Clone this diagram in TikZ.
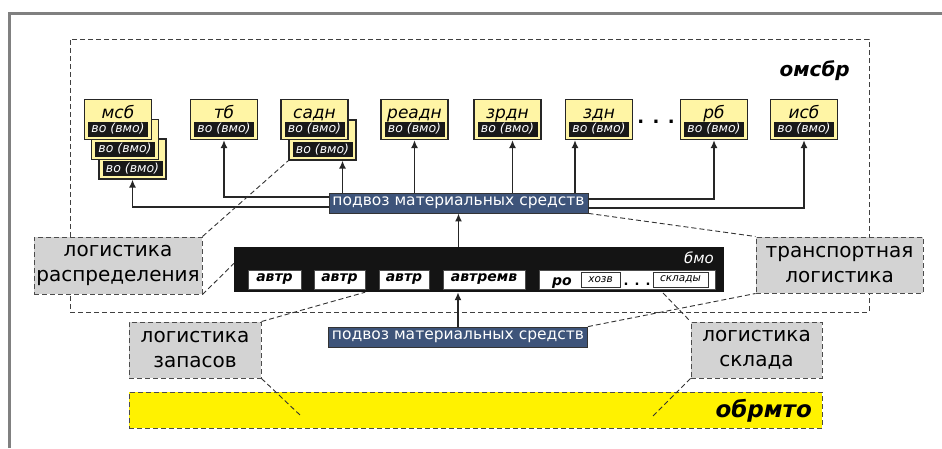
\documentclass[tikz,border=0pt]{standalone}
\usepackage{fontspec}
\setmainfont{DejaVu Sans}
\usetikzlibrary{arrows.meta}
\definecolor{unitfill}{RGB}{255,245,165}
\definecolor{busblue}{RGB}{62,84,122}
\definecolor{logigray}{RGB}{211,211,211}
\definecolor{baryellow}{RGB}{255,242,0}

\begin{document}
\begin{tikzpicture}[>={Latex[length=8pt,width=7pt]},x=1pt,y=-1pt,
  unit/.style={draw=black!85,line width=1.1pt,fill=unitfill,minimum width=67pt,minimum height=40pt,inner sep=0pt},
  strip/.style={fill=black!90,text=white,minimum width=60pt,minimum height=15pt,inner sep=0pt,font=\fontsize{12.5}{12.5}\selectfont\itshape},
  utitle/.style={inner sep=0pt,anchor=base,font=\fontsize{17}{17}\selectfont\itshape},
  bus/.style={fill=busblue,draw=black!80,line width=0.8pt,text=white,minimum width=259pt,minimum height=20pt,inner sep=0pt,font=\fontsize{15.5}{15.5}\selectfont},
  subunit/.style={fill=white,draw=black!70,minimum height=19pt,inner sep=0pt,font=\fontsize{14}{14}\selectfont\bfseries\itshape},
  store/.style={fill=white,draw=black!80,line width=0.8pt,minimum height=15pt,inner sep=0pt,font=\fontsize{10.5}{10.5}\selectfont\itshape},
  logi/.style={fill=logigray,draw=black!70,dash pattern=on 5pt off 3pt,line width=1pt,inner sep=0pt,align=center,font=\fontsize{20}{25}\selectfont},
  arr/.style={->,line width=1.7pt,draw=black!85},
  link/.style={line width=0.9pt,draw=black!80,dash pattern=on 5pt off 3pt}]
\useasboundingbox (0,0) rectangle (942,448);
\draw[line width=3pt,gray] (9,448) |- (942,13);

% omsbr frame
\node[draw=black!75,dash pattern=on 5pt off 3pt,line width=1pt,minimum width=799pt,minimum height=273pt] (omsbr) at (469.5,175.5) {};
\node[anchor=base east,inner sep=0pt,font=\fontsize{20}{20}\selectfont\bfseries\itshape] (omsbr-t) at (850,76) {омсбр};

% units (back copies first)
\foreach \n/\x/\y in {msb3/132.5/159,msb2/125/139.5,sadn2/322.5/140} {
  \node[unit] (\n) at (\x,\y) {};
  \node[strip] (\n-s) at ([yshift=-9.5pt]\n.center) {во (вмо)};
}
\foreach \n/\x/\t in {msb/118/мсб,tb/224/тб,sadn/314.5/садн,readn/414.5/реадн,zrdn/507.5/зрдн,zdn/599/здн,rb/714/рб,isb/804/исб} {
  \node[unit] (\n) at (\x,119.5) {};
  \node[utitle] (\n-t) at (\x,118) {\t};
  \node[strip] (\n-s) at ([yshift=-9.5pt]\n.center) {во (вмо)};
}
\node[anchor=base,inner sep=0pt,font=\fontsize{18}{18}\selectfont\bfseries] (dots1) at (656,123) {. . .};

% supply bus
\node[bus] (bus) at (458.5,203) {подвоз материальных средств};
\coordinate (to-sadn) at ([xshift=20pt]sadn2.south);
\coordinate (to-zrdn) at ([xshift=5pt]zrdn.south);
\coordinate (to-zdn) at ([xshift=-24pt]zdn.south);
\draw[arr] ([yshift=-4pt]bus.west) -| (msb3.south);
\draw[arr] ([yshift=6pt]bus.west) -| (tb.south);
\draw[arr] (bus.north -| to-sadn) -- (to-sadn);
\draw[arr] (bus.north -| readn.south) -- (readn.south);
\draw[arr] (bus.north -| to-zrdn) -- (to-zrdn);
\draw[arr] (bus.north -| to-zdn) -- (to-zdn);
\draw[arr] ([yshift=4pt]bus.east) -| (rb.south);
\draw[arr] ([yshift=-5pt]bus.east) -| (isb.south);

% bmo
\node[fill=black!92,minimum width=490pt,minimum height=45pt,inner sep=0pt] (bmo) at (479,269.5) {};
\node[anchor=base east,inner sep=0pt,text=white,font=\fontsize{15}{15}\selectfont\itshape] (bmo-t) at (714,263) {бмо};
\foreach \n/\x/\w/\t in {avtr1/274.5/53/автр,avtr2/339.5/51/автр,avtr3/404/50/автр,avtrm/484/82/автремв}
  \node[subunit,minimum width=\w pt] (\n) at (\x,279.5) {\t};
\node[subunit,minimum width=176pt] (ro) at (627,279.5) {};
\node[anchor=base west,inner sep=0pt,font=\fontsize{14}{14}\selectfont\bfseries\itshape] (ro-t) at (552,285) {ро};
\node[store,minimum width=39pt] (hozv) at (600.5,279.5) {хозв};
\node[anchor=base,inner sep=0pt,font=\fontsize{13}{13}\selectfont\bfseries] (dots2) at (637,285) {. . .};
\node[store,minimum width=55pt] (sklady) at (680.5,279.5) {склады};
\draw[arr] (bmo.north -| bus.south) -- (bus.south);

% lower bus and obrmto
\node[bus] (bus2) at (458,337) {подвоз материальных средств};
\draw[arr] (bus2.north) -- (bus2.north |- bmo.south);
\node[fill=baryellow,draw=black!70,dash pattern=on 5pt off 3pt,line width=1pt,minimum width=693pt,minimum height=36pt,inner sep=0pt] (obr) at (475.5,410) {};
\node[anchor=base east,inner sep=0pt,font=\fontsize{23}{23}\selectfont\bfseries\itshape] (obr-t) at (812,417) {обрмто};

% logistics labels
\node[logi,minimum width=168pt,minimum height=57pt] (lr) at (118,265.5) {логистика\\распределения};
\node[logi,minimum width=132pt,minimum height=56pt] (lz) at (195,350) {логистика\\запасов};
\node[logi,minimum width=167pt,minimum height=56pt] (tl) at (839.5,265) {транспортная\\логистика};
\node[logi,minimum width=131pt,minimum height=56pt] (ls) at (756.5,350) {логистика\\склада};

\coordinate (obr-a) at (300,415);
\coordinate (obr-b) at (652,417);
\coordinate (sk-a) at (663,293);
\draw[link] (lr.north east) -- (sadn2.south west);
\draw[link] (lr.south east) -- ([yshift=6pt]bmo.west);
\draw[link] (lz.north east) -- (bmo.south -| avtr2.east);
\draw[link] (lz.south east) -- (obr-a);
\draw[link] (bus.south east) -- (tl.north west);
\draw[link] (bus2.north east) -- (tl.south west);
\draw[link] (sk-a) -- (ls.north west);
\draw[link] (ls.south west) -- (obr-b);
\end{tikzpicture}
\end{document}
